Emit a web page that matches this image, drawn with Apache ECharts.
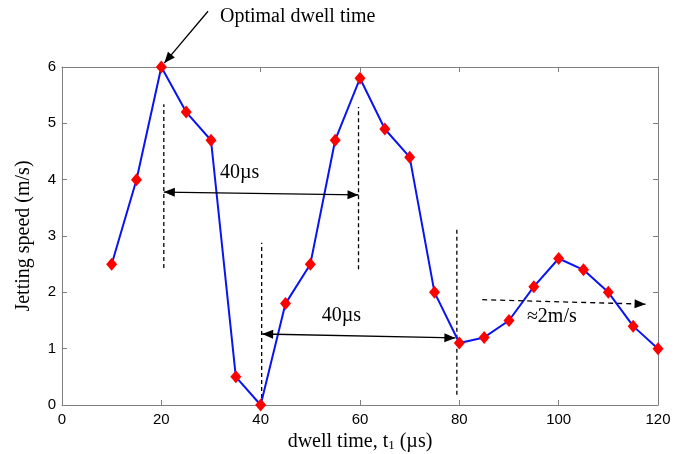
<!DOCTYPE html>
<html>
<head>
<meta charset="utf-8">
<script src="https://cdn.jsdelivr.net/npm/echarts@6/dist/echarts.min.js"></script>
<style>html,body{margin:0;padding:0;background:#fff;}#c{width:688px;height:454px;}</style>
</head>
<body>
<div id="c"></div>
<script>
// dwell time (µs)
const dwellTimes = [10,15,20,25,30,35,40,45,50,55,60,65,70,75,80,85,90,95,100,105,110,115,120];
// jetting speed (m/s)
const speeds = [2.5,4.0,6.0,5.2,4.7,0.5,0.0,1.8,2.5,4.7,5.8,4.9,4.4,2.0,1.1,1.2,1.5,2.1,2.6,2.4,2.0,1.4,1.0];
// vertical dashed guides: [x, yFrom, yTo]
const guides = [[20.5,2.43,5.34],[59.7,2.41,5.29],[40.2,0,2.88],[79.5,0.18,3.11]];
// arrows: [x1,y1,x2,y2, startHead, endHead, dashed]
const arrows = [
  [20.5,3.78,59.7,3.73,true,true,false],
  [40.3,1.26,79.2,1.19,true,true,false],
  [29.4,6.99,20.6,6.07,false,true,false],
  [84.6,1.87,117.5,1.79,false,true,true]
];
// text annotations: [text, x, y]
const notes = [
  ['Optimal dwell time',31.8,6.9],
  ['40\u00b5s',31.8,4.12],
  ['40\u00b5s',52.3,1.58],
  ['\u22482m/s',93.6,1.56]
];

const serif = '"Liberation Serif","Times New Roman",serif';
const sans = '"Liberation Sans",Arial,sans-serif';
const frame = '#7f7f7f';

const chart = echarts.init(document.getElementById('c'));

const series = [{
  type: 'line',
  data: dwellTimes.map((x,i)=>[x,speeds[i]]),
  lineStyle: {color:'#0a14f0', width:2},
  itemStyle: {color:'#ff0000'},
  symbol: 'diamond',
  symbolSize: [11,13],
  z: 5
}];
guides.forEach(g => series.push({
  type:'line', data:[[g[0],g[1]],[g[0],g[2]]], symbol:'none', silent:true,
  lineStyle:{color:'#000', width:1.3, type:[4,3]}, z:3
}));

const axisCommon = {
  axisLine:{show:true, onZero:false, lineStyle:{color:frame, width:1}},
  axisTick:{show:true, inside:true, length:5, lineStyle:{color:frame}},
  splitLine:{show:false}
};

chart.setOption({
  animation:false,
  grid:{left:62, right:30, top:67, bottom:49, outerBoundsMode:'none', containLabel:false},
  xAxis:[
    Object.assign({type:'value', min:0, max:120, interval:20, position:'bottom',
      axisLabel:{color:'#000', fontFamily:sans, fontSize:15, margin:7},
      name:'{a|dwell time, t}{s|1}{a| (\u00b5s)}', nameLocation:'middle', nameGap:24,
      nameTextStyle:{rich:{a:{fontFamily:serif, fontSize:20, color:'#000'}, s:{fontFamily:serif, fontSize:13, color:'#000', verticalAlign:'bottom', padding:[8,0,0,0]}}}
    }, axisCommon),
    Object.assign({type:'value', min:0, max:120, interval:20, position:'top', axisLabel:{show:false}}, axisCommon)
  ],
  yAxis:[
    Object.assign({type:'value', min:0, max:6, interval:1, position:'left',
      axisLabel:{color:'#000', fontFamily:sans, fontSize:15, margin:6},
      name:'Jetting speed (m/s)', nameLocation:'middle', nameGap:28,
      nameTextStyle:{fontFamily:serif, fontSize:20, color:'#000'}
    }, axisCommon),
    Object.assign({type:'value', min:0, max:6, interval:1, position:'right', axisLabel:{show:false}}, axisCommon)
  ],
  series: series
});

const toPx = (x,y) => chart.convertToPixel({xAxisIndex:0, yAxisIndex:0}, [x, y]);
const graphics = [];
notes.forEach(n => {
  const p = toPx(n[1], n[2]);
  graphics.push({type:'text', x:p[0], y:p[1], silent:true, z:10,
    style:{text:n[0], fill:'#000', font:'20px '+serif, textVerticalAlign:'middle', textAlign:'left'}});
});
function head(tip, from) {
  const dx = tip[0]-from[0], dy = tip[1]-from[1];
  const L = Math.hypot(dx,dy), ux = dx/L, uy = dy/L;
  const len = 11, w = 4.5;
  const bx = tip[0]-ux*len, by = tip[1]-uy*len;
  return {type:'polygon', silent:true, z:10,
    shape:{points:[[tip[0],tip[1]],[bx-uy*w,by+ux*w],[bx+uy*w,by-ux*w]]},
    style:{fill:'#000'}};
}
arrows.forEach(a => {
  const p1 = toPx(a[0],a[1]), p2 = toPx(a[2],a[3]);
  graphics.push({type:'line', silent:true, z:10,
    shape:{x1:p1[0],y1:p1[1],x2:p2[0],y2:p2[1]},
    style:{stroke:'#000', lineWidth:1.3, lineDash: a[6]?[5,4]:null}});
  if (a[4]) graphics.push(head(p1,p2));
  if (a[5]) graphics.push(head(p2,p1));
});
chart.setOption({graphic: graphics});
</script>
</body>
</html>
